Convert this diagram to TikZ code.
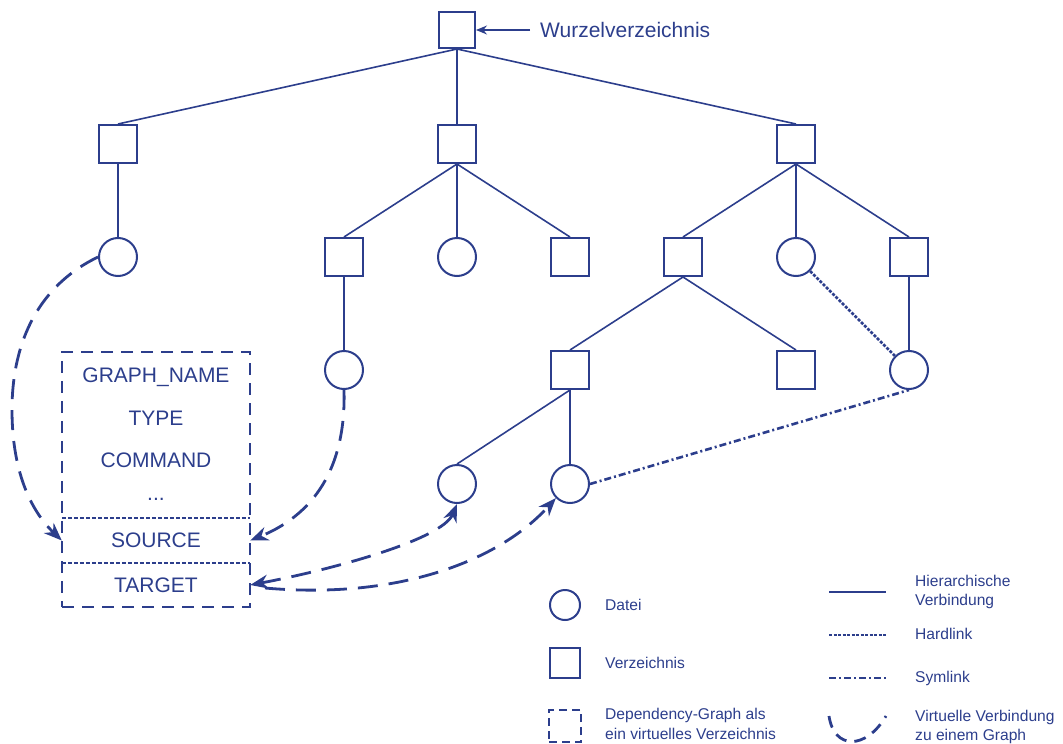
\documentclass[tikz,border=0pt]{standalone}
\usepackage{fontspec}
\setmainfont{Liberation Sans}
\usetikzlibrary{arrows.meta}
\definecolor{ink}{RGB}{44,62,140}
\tikzset{
  x=1pt, y=-1pt,
  every node/.style={text=ink},
  dir/.style={draw=ink, line width=2pt, minimum size=38pt, inner sep=0pt},
  file/.style={draw=ink, circle, line width=2pt, minimum size=38pt, inner sep=0pt},
  tree/.style={draw=ink, line width=1.6pt},
  hard/.style={draw=ink, line width=2.6pt, dash pattern=on 3pt off 1.5pt},
  sym/.style={draw=ink, line width=2.6pt, dash pattern=on 7pt off 3pt on 2pt off 3pt},
  virt/.style={draw=ink, line width=2.8pt, dash pattern=on 20pt off 11pt},
  virtarrow/.style={virt, -{Stealth[length=18pt,width=14pt]}},
  bigtxt/.style={font=\fontsize{21}{24}\selectfont},
  legtxt/.style={font=\fontsize{15.6}{19.5}\selectfont, anchor=west, align=left, inner sep=0pt},
  row/.style={minimum width=188pt, inner sep=0pt, bigtxt},
}
\begin{document}
\begin{tikzpicture}
\useasboundingbox (0,0) rectangle (1063,744);

% directory tree
\node[dir, minimum size=36pt] (root) at (457,30) {};
\node[dir] (d1) at (118,144) {};
\node[dir] (d2) at (457,144) {};
\node[dir] (d3) at (796,144) {};
\node[file] (f1) at (118,257) {};
\node[dir] (d21) at (344,257) {};
\node[file] (f22) at (457,257) {};
\node[dir] (d23) at (570,257) {};
\node[dir] (d31) at (683,257) {};
\node[file] (f32) at (796,257) {};
\node[dir] (d33) at (909,257) {};
\node[file] (f211) at (344,370) {};
\node[dir] (d311) at (570,370) {};
\node[dir] (d312) at (796,370) {};
\node[file] (f331) at (909,370) {};
\node[file] (f3111) at (457,484) {};
\node[file] (f3112) at (570,484) {};

\foreach \p/\c in {root/d1, root/d2, root/d3, d1/f1, d2/d21, d2/f22, d2/d23,
                   d3/d31, d3/f32, d3/d33, d21/f211, d31/d311, d31/d312,
                   d33/f331, d311/f3111, d311/f3112}
  \draw[tree] (\p.south) -- (\c.north);

% root label
\node[bigtxt, anchor=west, inner sep=0pt] (rootlbl) at (540,30) {Wurzelverzeichnis};
\coordinate (rootarr) at (530,30);
\draw[draw=ink, line width=1.3pt, -{Stealth[length=11pt,width=9pt]}] (rootarr) -- (root.east);

% hard link and symbolic link
\draw[hard] (f32.south east) -- (f331.north west);
\draw[sym] (f3112.east) -- (f331.south);

% dependency graph as a virtual directory
\node[draw=ink, line width=2.8pt, dash pattern=on 12pt off 8pt,
      minimum width=188pt, minimum height=255pt, inner sep=0pt] (vg) at (156,479.5) {};
\node[row] (gname) at (156,377) {GRAPH\_NAME};
\node[row] (gtype) at (156,418) {TYPE};
\node[row] (gcmd) at (156,460) {COMMAND};
\node[row] (gdots) at (156,499) {...};
\node[row, minimum height=45pt] (src) at (156,540.5) {SOURCE};
\node[row, minimum height=44pt] (tgt) at (156,585) {TARGET};
\draw[draw=ink, line width=1.4pt, dash pattern=on 4pt off 2pt] (src.north west) -- (src.north east);
\draw[draw=ink, line width=1.4pt, dash pattern=on 4pt off 2pt] (tgt.north west) -- (tgt.north east);

% virtual connections
\draw[virtarrow] (f1.west) .. controls (40,285) and (12,340) .. (12,410)
                 .. controls (12,470) and (30,510) .. (src.west);
\draw[virtarrow] (f211.south) .. controls (346,460) and (320,512) .. (src.east);
\draw[virt, {Stealth[length=18pt,width=14pt]}-{Stealth[length=18pt,width=14pt]}]
     (tgt.east) .. controls (330,570) and (442,540) .. (f3111.south);
\coordinate (tgtout) at (265,588);
\draw[virtarrow] (tgtout) .. controls (400,600) and (500,560) .. (f3112.south west);

% legend
\node[file, minimum size=30pt] (lgfile) at (565,605) {};
\node[legtxt] (lgfiletxt) at (605,605) {Datei};
\node[dir, minimum size=30pt] (lgdir) at (565,663) {};
\node[legtxt] (lgdirtxt) at (605,663) {Verzeichnis};
\node[draw=ink, line width=2.8pt, dash pattern=on 8pt off 5pt, minimum size=32pt, inner sep=0pt] (lgvg) at (565,726) {};
\node[legtxt] (lgvgtxt) at (605,724) {Dependency-Graph als\\ein virtuelles Verzeichnis};

\coordinate (lh1) at (829,592);
\coordinate (lh2) at (886,592);
\draw[tree, line width=2.2pt] (lh1) -- (lh2);
\node[legtxt] (lhtxt) at (915,592) {Hierarchische\\Verbindung};
\coordinate (lk1) at (829,635);
\coordinate (lk2) at (886,635);
\draw[hard] (lk1) -- (lk2);
\node[legtxt] (lktxt) at (915,634) {Hardlink};
\coordinate (ls1) at (829,678);
\coordinate (ls2) at (886,678);
\draw[sym] (ls1) -- (ls2);
\node[legtxt] (lstxt) at (915,678) {Symlink};
\coordinate (lv1) at (829,716);
\coordinate (lv2) at (886,716);
\draw[virt, dash pattern=on 12pt off 8pt] (lv1) .. controls (834,750) and (866,750) .. (lv2);
\node[legtxt] (lvtxt) at (915,727) {Virtuelle Verbindung\\zu einem Graph};
\end{tikzpicture}
\end{document}
